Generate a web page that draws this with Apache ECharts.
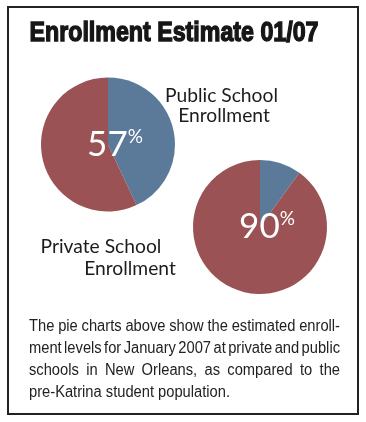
<!DOCTYPE html>
<html><head><meta charset="utf-8">
<script src="https://cdn.jsdelivr.net/npm/echarts@6/dist/echarts.min.js"></script>
<style>html,body{margin:0;padding:0;background:#fff}#c{width:366px;height:422px}</style>
</head><body><div id="c"></div>
<script>
// ---- data ----
const titleText = 'Enrollment Estimate 01/07';
const sliceNames = ['Not enrolled', 'Enrolled'];
const publicValues = [43, 57];
const privateValues = [10, 90];
const publicLabel = ['Public School', 'Enrollment'];
const privateLabel = ['Private School', 'Enrollment'];
const captionLines = [
  'The pie charts above show the estimated enroll-',
  'ment levels for January 2007 at private and public',
  'schools in New Orleans, as compared to the',
  'pre-Katrina student population.'
];
const sliceColors = ['#5b7a9a', '#9a5254'];

// ---- helpers ----
const ctx = document.createElement('canvas').getContext('2d');
function measure(t, font){ ctx.font = font; return ctx.measureText(t).width; }

const chart = echarts.init(document.getElementById('c'), null, {renderer: 'canvas'});

function pieSeries(values, center){
  return {
    type: 'pie', center: center, radius: 67, startAngle: 90, clockwise: true,
    silent: true, animation: false, labelLine: {show: false},
    emphasis: {disabled: true},
    data: values.map((v, i) => ({
      name: sliceNames[i], value: v,
      itemStyle: {color: sliceColors[i]},
      label: i === 1 ? {
        show: true, position: 'center', padding: [0, 0, 0, 14],
        formatter: '{n|' + v + '}{p|%}',
        rich: {
          n: {fontFamily: 'Lato', fontSize: 35, color: '#fff', verticalAlign: 'bottom'},
          p: {fontFamily: 'Lato', fontSize: 19, color: '#fff', verticalAlign: 'top'}
        }
      } : {show: false}
    }))
  };
}

const graphics = [];
// border
graphics.push({type: 'rect', shape: {x: 8, y: 7, width: 350, height: 407},
  style: {fill: 'none', stroke: '#222', lineWidth: 2}, silent: true});

// title
const titleFont = 'bold 28px "Liberation Sans"';
const tScale = 289 / measure(titleText, titleFont);
graphics.push({type: 'text', x: 29.5, y: 33, scaleX: tScale,
  style: {text: titleText, font: titleFont, fill: '#161616', stroke: '#161616', lineWidth: 1.4,
    textAlign: 'left', textVerticalAlign: 'middle'}});

// pie labels
const lblSize = 20 * 113 / measure(publicLabel[0], '20px Lato');
const lblFont = lblSize.toFixed(2) + 'px Lato';
function addLabel(t, cx, cy){
  graphics.push({type: 'text', x: cx, y: cy,
    style: {text: t, font: lblFont, fill: '#1c1c1c', textAlign: 'center', textVerticalAlign: 'middle'}});
}
addLabel(publicLabel[0], 221.5, 95.5);
addLabel(publicLabel[1], 224, 116);
addLabel(privateLabel[0], 101, 247);
addLabel(privateLabel[1], 130, 268.5);

// caption (justified)
const capFont = '16px "Liberation Sans"';
const capScale = 201 / measure(captionLines[3], capFont);
const capLeft = 29, capRight = 340;
const capY = [326.5, 348.5, 370.5, 392.5];
captionLines.forEach((line, li) => {
  const words = line.split(' ');
  const ww = words.map(w => measure(w, capFont) * capScale);
  const spaceNat = measure(' ', capFont) * capScale;
  let gap = spaceNat;
  if (li < captionLines.length - 1) {
    const total = ww.reduce((a, b) => a + b, 0);
    gap = (capRight - capLeft - total) / (words.length - 1);
  }
  let x = capLeft;
  words.forEach((w, i) => {
    graphics.push({type: 'text', x: x, y: capY[li], scaleX: capScale,
      style: {text: w, font: capFont, fill: '#222', textAlign: 'left', textVerticalAlign: 'middle'}});
    x += ww[i] + gap;
  });
});

chart.setOption({
  animation: false,
  backgroundColor: '#fff',
  series: [pieSeries(publicValues, [108, 144.5]), pieSeries(privateValues, [260, 227])],
  graphic: graphics
});
</script>
</body></html>
